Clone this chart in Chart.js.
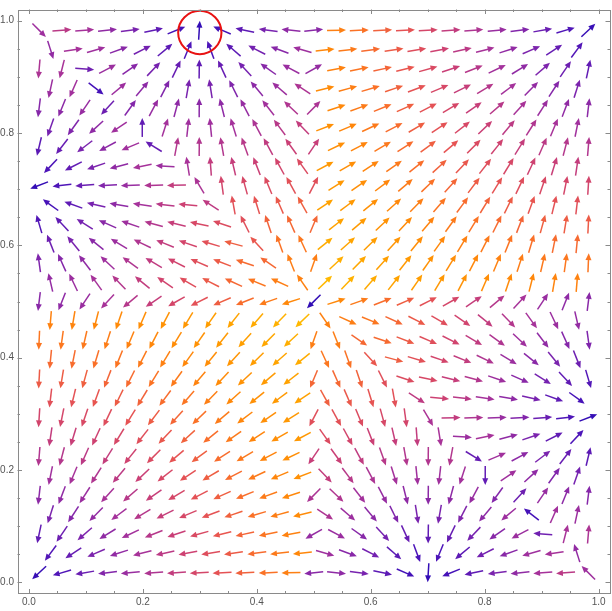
<!DOCTYPE html>
<html>
<head>
<meta charset="utf-8">
<script src="https://cdn.jsdelivr.net/npm/chart.js@4.4.1/dist/chart.umd.min.js"></script>
<style>
html,body{margin:0;padding:0;background:#fff;}
#wrap{width:612px;height:611px;position:relative;}
</style>
</head>
<body>
<div id="wrap"><canvas id="c" width="612" height="611"></canvas></div>
<script>
// ---- sampling lattice (staggered rows) ----
const Y_ROWS = [0.983,0.948,0.914,0.879,0.845,0.810,0.776,0.741,0.707,0.672,0.638,0.603,0.569,0.534,0.500,0.466,0.431,0.397,0.362,0.328,0.293,0.259,0.224,0.190,0.155,0.121,0.086,0.052,0.017];
const X_EVEN = [0.018,0.058,0.098,0.138,0.178,0.219,0.259,0.299,0.339,0.379,0.420,0.460,0.500,0.540,0.580,0.621,0.661,0.701,0.741,0.781,0.822,0.862,0.902,0.942,0.982];
const X_ODD  = [0.038,0.078,0.118,0.158,0.199,0.239,0.279,0.319,0.359,0.400,0.440,0.480,0.520,0.560,0.600,0.641,0.681,0.721,0.761,0.801,0.842,0.882,0.922,0.962];

// ---- field components (row by row, top to bottom) ----
const U_ROWS = [
[0.132,0.242,0.202,0.162,0.122,0.081,0.041,0.001,-0.039,-0.079,-0.12,-0.16,0.15,0.46,0.42,0.379,0.339,0.299,0.259,0.219,0.178,0.138,0.098,0.058,0.018],
[0.05,0.2,0.182,0.142,0.101,0.061,0.021,-0.019,-0.059,-0.1,-0.14,-0.18,0.48,0.44,0.4,0.359,0.319,0.279,0.239,0.199,0.158,0.118,0.078,0.038],
[-0.018,-0.05,0.108,0.162,0.122,0.081,0.041,0.001,-0.039,-0.079,-0.12,-0.16,0.15,0.46,0.42,0.379,0.339,0.299,0.259,0.219,0.178,0.138,0.098,0.058,0.018],
[-0.038,-0.078,0.035,0.142,0.101,0.061,0.021,-0.019,-0.059,-0.1,-0.14,-0.18,0.48,0.44,0.4,0.359,0.319,0.279,0.239,0.199,0.158,0.118,0.078,0.038],
[-0.018,-0.058,-0.098,-0.07,0.082,0.081,0.041,0.001,-0.039,-0.079,-0.12,-0.16,0.15,0.46,0.42,0.379,0.339,0.299,0.259,0.219,0.178,0.138,0.098,0.058,0.018],
[-0.038,-0.078,-0.118,-0.158,0,0.061,0.021,-0.019,-0.059,-0.1,-0.14,-0.18,0.48,0.44,0.4,0.359,0.319,0.279,0.239,0.199,0.158,0.118,0.078,0.038],
[-0.018,-0.058,-0.098,-0.138,-0.178,-0.08,0.041,0.001,-0.039,-0.079,-0.12,-0.16,0.15,0.46,0.42,0.379,0.339,0.299,0.259,0.219,0.178,0.138,0.098,0.058,0.018],
[-0.038,-0.078,-0.118,-0.158,-0.199,-0.185,-0.033,-0.019,-0.059,-0.1,-0.14,-0.18,0.48,0.44,0.4,0.359,0.319,0.279,0.239,0.199,0.158,0.118,0.078,0.038],
[-0.018,-0.058,-0.098,-0.138,-0.178,-0.219,-0.259,-0.107,-0.039,-0.079,-0.12,-0.16,0.15,0.46,0.42,0.379,0.339,0.299,0.259,0.219,0.178,0.138,0.098,0.058,0.018],
[-0.038,-0.078,-0.118,-0.158,-0.199,-0.239,-0.279,-0.211,-0.059,-0.1,-0.14,-0.18,0.48,0.44,0.4,0.359,0.319,0.279,0.239,0.199,0.158,0.118,0.078,0.038],
[-0.018,-0.058,-0.098,-0.138,-0.178,-0.219,-0.259,-0.299,-0.3,-0.146,-0.12,-0.16,0.15,0.46,0.42,0.379,0.339,0.299,0.259,0.219,0.178,0.138,0.098,0.058,0.018],
[-0.038,-0.078,-0.118,-0.158,-0.199,-0.239,-0.279,-0.319,-0.359,-0.236,-0.14,-0.18,0.48,0.44,0.4,0.359,0.319,0.279,0.239,0.199,0.158,0.118,0.078,0.038],
[-0.018,-0.058,-0.098,-0.138,-0.178,-0.219,-0.259,-0.299,-0.339,-0.379,-0.325,-0.165,0.15,0.46,0.42,0.379,0.339,0.299,0.259,0.219,0.178,0.138,0.098,0.058,0.018],
[-0.038,-0.078,-0.118,-0.158,-0.199,-0.239,-0.279,-0.319,-0.359,-0.4,-0.415,-0.261,0.48,0.44,0.4,0.359,0.319,0.279,0.239,0.199,0.158,0.118,0.078,0.038],
[-0.018,-0.058,-0.098,-0.138,-0.178,-0.219,-0.259,-0.299,-0.339,-0.379,-0.42,-0.46,-0.01,0.46,0.42,0.379,0.339,0.299,0.259,0.219,0.178,0.138,0.098,0.058,0.018],
[-0.038,-0.078,-0.118,-0.158,-0.199,-0.239,-0.279,-0.319,-0.359,-0.4,-0.44,-0.48,0.261,0.415,0.4,0.359,0.319,0.279,0.239,0.199,0.158,0.118,0.078,0.038],
[-0.018,-0.058,-0.098,-0.138,-0.178,-0.219,-0.259,-0.299,-0.339,-0.379,-0.42,-0.46,-0.15,0.165,0.325,0.379,0.339,0.299,0.259,0.219,0.178,0.138,0.098,0.058,0.018],
[-0.038,-0.078,-0.118,-0.158,-0.199,-0.239,-0.279,-0.319,-0.359,-0.4,-0.44,-0.48,0.18,0.14,0.236,0.359,0.319,0.279,0.239,0.199,0.158,0.118,0.078,0.038],
[-0.018,-0.058,-0.098,-0.138,-0.178,-0.219,-0.259,-0.299,-0.339,-0.379,-0.42,-0.46,-0.15,0.16,0.12,0.146,0.3,0.299,0.259,0.219,0.178,0.138,0.098,0.058,0.018],
[-0.038,-0.078,-0.118,-0.158,-0.199,-0.239,-0.279,-0.319,-0.359,-0.4,-0.44,-0.48,0.18,0.14,0.1,0.059,0.211,0.279,0.239,0.199,0.158,0.118,0.078,0.038],
[-0.018,-0.058,-0.098,-0.138,-0.178,-0.219,-0.259,-0.299,-0.339,-0.379,-0.42,-0.46,-0.15,0.16,0.12,0.079,0.039,0.107,0.259,0.219,0.178,0.138,0.098,0.058,0.018],
[-0.038,-0.078,-0.118,-0.158,-0.199,-0.239,-0.279,-0.319,-0.359,-0.4,-0.44,-0.48,0.18,0.14,0.1,0.059,0.019,0.033,0.185,0.199,0.158,0.118,0.078,0.038],
[-0.018,-0.058,-0.098,-0.138,-0.178,-0.219,-0.259,-0.299,-0.339,-0.379,-0.42,-0.46,-0.15,0.16,0.12,0.079,0.039,-0.001,-0.041,0.08,0.178,0.138,0.098,0.058,0.018],
[-0.038,-0.078,-0.118,-0.158,-0.199,-0.239,-0.279,-0.319,-0.359,-0.4,-0.44,-0.48,0.18,0.14,0.1,0.059,0.019,-0.021,-0.061,0,0.158,0.118,0.078,0.038],
[-0.018,-0.058,-0.098,-0.138,-0.178,-0.219,-0.259,-0.299,-0.339,-0.379,-0.42,-0.46,-0.15,0.16,0.12,0.079,0.039,-0.001,-0.041,-0.081,-0.082,0.07,0.098,0.058,0.018],
[-0.038,-0.078,-0.118,-0.158,-0.199,-0.239,-0.279,-0.319,-0.359,-0.4,-0.44,-0.48,0.18,0.14,0.1,0.059,0.019,-0.021,-0.061,-0.101,-0.142,-0.035,0.078,0.038],
[-0.018,-0.058,-0.098,-0.138,-0.178,-0.219,-0.259,-0.299,-0.339,-0.379,-0.42,-0.46,-0.15,0.16,0.12,0.079,0.039,-0.001,-0.041,-0.081,-0.122,-0.162,-0.108,0.05,0.018],
[-0.038,-0.078,-0.118,-0.158,-0.199,-0.239,-0.279,-0.319,-0.359,-0.4,-0.44,-0.48,0.18,0.14,0.1,0.059,0.019,-0.021,-0.061,-0.101,-0.142,-0.182,-0.2,-0.05],
[-0.018,-0.058,-0.098,-0.138,-0.178,-0.219,-0.259,-0.299,-0.339,-0.379,-0.42,-0.46,-0.15,0.16,0.12,0.079,0.039,-0.001,-0.041,-0.081,-0.122,-0.162,-0.202,-0.242,-0.132]
];
const V_ROWS = [
[-0.133,0.017,0.017,0.017,0.017,0.017,0.017,0.017,0.017,0.017,0.017,0.017,0.017,0.017,0.017,0.017,0.017,0.017,0.017,0.017,0.017,0.017,0.017,0.017,0.017],
[-0.16,0.03,0.052,0.052,0.052,0.052,0.052,0.052,0.052,0.052,0.052,0.052,0.052,0.052,0.052,0.052,0.052,0.052,0.052,0.052,0.052,0.052,0.052,0.052],
[-0.214,-0.2,-0.008,0.086,0.086,0.086,0.086,0.086,0.086,0.086,0.086,0.086,0.086,0.086,0.086,0.086,0.086,0.086,0.086,0.086,0.086,0.086,0.086,0.086,0.086],
[-0.179,-0.179,-0.028,0.121,0.121,0.121,0.121,0.121,0.121,0.121,0.121,0.121,0.121,0.121,0.121,0.121,0.121,0.121,0.121,0.121,0.121,0.121,0.121,0.121],
[-0.145,-0.145,-0.145,-0.077,0.115,0.155,0.155,0.155,0.155,0.155,0.155,0.155,0.155,0.155,0.155,0.155,0.155,0.155,0.155,0.155,0.155,0.155,0.155,0.155,0.155],
[-0.11,-0.11,-0.11,-0.11,0.088,0.19,0.19,0.19,0.19,0.19,0.19,0.19,0.19,0.19,0.19,0.19,0.19,0.19,0.19,0.19,0.19,0.19,0.19,0.19],
[-0.076,-0.076,-0.076,-0.076,-0.076,0.05,0.224,0.224,0.224,0.224,0.224,0.224,0.224,0.224,0.224,0.224,0.224,0.224,0.224,0.224,0.224,0.224,0.224,0.224,0.224],
[-0.041,-0.041,-0.041,-0.041,-0.041,0.013,0.205,0.259,0.259,0.259,0.259,0.259,0.259,0.259,0.259,0.259,0.259,0.259,0.259,0.259,0.259,0.259,0.259,0.259],
[-0.007,-0.007,-0.007,-0.007,-0.007,-0.007,-0.007,0.185,0.293,0.293,0.293,0.293,0.293,0.293,0.293,0.293,0.293,0.293,0.293,0.293,0.293,0.293,0.293,0.293,0.293],
[0.028,0.028,0.028,0.028,0.028,0.028,0.028,0.136,0.328,0.328,0.328,0.328,0.328,0.328,0.328,0.328,0.328,0.328,0.328,0.328,0.328,0.328,0.328,0.328],
[0.062,0.062,0.062,0.062,0.062,0.062,0.062,0.062,0.101,0.295,0.362,0.362,0.362,0.362,0.362,0.362,0.362,0.362,0.362,0.362,0.362,0.362,0.362,0.362,0.362],
[0.097,0.097,0.097,0.097,0.097,0.097,0.097,0.097,0.097,0.261,0.397,0.397,0.397,0.397,0.397,0.397,0.397,0.397,0.397,0.397,0.397,0.397,0.397,0.397],
[0.131,0.131,0.131,0.131,0.131,0.131,0.131,0.131,0.131,0.131,0.226,0.425,0.431,0.431,0.431,0.431,0.431,0.431,0.431,0.431,0.431,0.431,0.431,0.431,0.431],
[0.166,0.166,0.166,0.166,0.166,0.166,0.166,0.166,0.166,0.166,0.191,0.385,0.466,0.466,0.466,0.466,0.466,0.466,0.466,0.466,0.466,0.466,0.466,0.466],
[-0.15,-0.15,-0.15,-0.15,-0.15,-0.15,-0.15,-0.15,-0.15,-0.15,-0.15,-0.15,-0.01,0.15,0.15,0.15,0.15,0.15,0.15,0.15,0.15,0.15,0.15,0.15,0.15],
[-0.466,-0.466,-0.466,-0.466,-0.466,-0.466,-0.466,-0.466,-0.466,-0.466,-0.466,-0.466,-0.385,-0.191,-0.166,-0.166,-0.166,-0.166,-0.166,-0.166,-0.166,-0.166,-0.166,-0.166],
[-0.431,-0.431,-0.431,-0.431,-0.431,-0.431,-0.431,-0.431,-0.431,-0.431,-0.431,-0.431,-0.431,-0.425,-0.226,-0.131,-0.131,-0.131,-0.131,-0.131,-0.131,-0.131,-0.131,-0.131,-0.131],
[-0.397,-0.397,-0.397,-0.397,-0.397,-0.397,-0.397,-0.397,-0.397,-0.397,-0.397,-0.397,-0.397,-0.397,-0.261,-0.097,-0.097,-0.097,-0.097,-0.097,-0.097,-0.097,-0.097,-0.097],
[-0.362,-0.362,-0.362,-0.362,-0.362,-0.362,-0.362,-0.362,-0.362,-0.362,-0.362,-0.362,-0.362,-0.362,-0.362,-0.295,-0.101,-0.062,-0.062,-0.062,-0.062,-0.062,-0.062,-0.062,-0.062],
[-0.328,-0.328,-0.328,-0.328,-0.328,-0.328,-0.328,-0.328,-0.328,-0.328,-0.328,-0.328,-0.328,-0.328,-0.328,-0.328,-0.136,-0.028,-0.028,-0.028,-0.028,-0.028,-0.028,-0.028],
[-0.293,-0.293,-0.293,-0.293,-0.293,-0.293,-0.293,-0.293,-0.293,-0.293,-0.293,-0.293,-0.293,-0.293,-0.293,-0.293,-0.293,-0.185,0.007,0.007,0.007,0.007,0.007,0.007,0.007],
[-0.259,-0.259,-0.259,-0.259,-0.259,-0.259,-0.259,-0.259,-0.259,-0.259,-0.259,-0.259,-0.259,-0.259,-0.259,-0.259,-0.259,-0.205,-0.013,0.041,0.041,0.041,0.041,0.041],
[-0.224,-0.224,-0.224,-0.224,-0.224,-0.224,-0.224,-0.224,-0.224,-0.224,-0.224,-0.224,-0.224,-0.224,-0.224,-0.224,-0.224,-0.224,-0.224,-0.05,0.076,0.076,0.076,0.076,0.076],
[-0.19,-0.19,-0.19,-0.19,-0.19,-0.19,-0.19,-0.19,-0.19,-0.19,-0.19,-0.19,-0.19,-0.19,-0.19,-0.19,-0.19,-0.19,-0.19,-0.088,0.11,0.11,0.11,0.11],
[-0.155,-0.155,-0.155,-0.155,-0.155,-0.155,-0.155,-0.155,-0.155,-0.155,-0.155,-0.155,-0.155,-0.155,-0.155,-0.155,-0.155,-0.155,-0.155,-0.155,-0.115,0.077,0.145,0.145,0.145],
[-0.121,-0.121,-0.121,-0.121,-0.121,-0.121,-0.121,-0.121,-0.121,-0.121,-0.121,-0.121,-0.121,-0.121,-0.121,-0.121,-0.121,-0.121,-0.121,-0.121,-0.121,0.028,0.179,0.179],
[-0.086,-0.086,-0.086,-0.086,-0.086,-0.086,-0.086,-0.086,-0.086,-0.086,-0.086,-0.086,-0.086,-0.086,-0.086,-0.086,-0.086,-0.086,-0.086,-0.086,-0.086,-0.086,0.008,0.2,0.214],
[-0.052,-0.052,-0.052,-0.052,-0.052,-0.052,-0.052,-0.052,-0.052,-0.052,-0.052,-0.052,-0.052,-0.052,-0.052,-0.052,-0.052,-0.052,-0.052,-0.052,-0.052,-0.052,-0.03,0.16],
[-0.017,-0.017,-0.017,-0.017,-0.017,-0.017,-0.017,-0.017,-0.017,-0.017,-0.017,-0.017,-0.017,-0.017,-0.017,-0.017,-0.017,-0.017,-0.017,-0.017,-0.017,-0.017,-0.017,-0.017,0.133]
];

// ---- axes / annotation ----
const TICK_VALUES = [0.0, 0.2, 0.4, 0.6, 0.8, 1.0];
const MINOR_TICKS = [0.05,0.1,0.15,0.25,0.3,0.35,0.45,0.5,0.55,0.65,0.7,0.75,0.85,0.9,0.95];
const AXIS_RANGE = [-0.02, 1.02];
const MARK_CIRCLE = {x: 0.3, y: 0.979, r: 0.038};

// ---- styles ----
const COLOR_STOPS = [
  [0.00, [40, 10, 180]],
  [0.08, [75, 20, 185]],
  [0.18, [120, 35, 175]],
  [0.30, [165, 50, 155]],
  [0.42, [205, 65, 115]],
  [0.52, [232, 85, 80]],
  [0.62, [250, 112, 40]],
  [0.72, [255, 135, 10]],
  [0.85, [255, 158, 0]],
  [1.00, [255, 184, 0]]
];
const ARROW_LEN = 19, HEAD_LEN = 6.8, HEAD_HALF = 3.0, SHAFT_W = 1.5;

// table built from arrays
const points = [];
let mMax = 0;
for (let r = 0; r < Y_ROWS.length; r++) {
  const xs = (r % 2 === 0) ? X_EVEN : X_ODD;
  for (let k = 0; k < xs.length; k++) {
    const u = U_ROWS[r][k], v = V_ROWS[r][k];
    const m = Math.hypot(u, v);
    if (m > mMax) mMax = m;
    points.push({x: xs[k], y: Y_ROWS[r], u: u, v: v, m: m});
  }
}

function colorFor(t) {
  t = Math.max(0, Math.min(1, t));
  for (let i = 1; i < COLOR_STOPS.length; i++) {
    const [t1, c1] = COLOR_STOPS[i];
    const [t0, c0] = COLOR_STOPS[i - 1];
    if (t <= t1) {
      const f = (t - t0) / (t1 - t0);
      const c = c0.map((a, j) => Math.round(a + (c1[j] - a) * f));
      return `rgb(${c[0]},${c[1]},${c[2]})`;
    }
  }
  const c = COLOR_STOPS[COLOR_STOPS.length - 1][1];
  return `rgb(${c[0]},${c[1]},${c[2]})`;
}

const arrowPlugin = {
  id: 'arrows',
  afterDatasetsDraw(chart) {
    const ctx = chart.ctx;
    const meta = chart.getDatasetMeta(0);
    const xs = chart.scales.x, ys = chart.scales.y;
    const kx = Math.abs(xs.getPixelForValue(1) - xs.getPixelForValue(0));
    const ky = Math.abs(ys.getPixelForValue(1) - ys.getPixelForValue(0));
    ctx.save();
    ctx.lineCap = 'butt';
    meta.data.forEach((el, i) => {
      const p = points[i];
      let dx = p.u * kx, dy = -p.v * ky;
      const n = Math.hypot(dx, dy) || 1;
      dx /= n; dy /= n;
      const cx = el.x, cy = el.y;
      const tx = cx + dx * ARROW_LEN / 2, ty = cy + dy * ARROW_LEN / 2;
      const sx = cx - dx * ARROW_LEN / 2, sy = cy - dy * ARROW_LEN / 2;
      const col = colorFor(p.m / mMax);
      ctx.strokeStyle = col; ctx.fillStyle = col;
      ctx.lineWidth = SHAFT_W;
      ctx.beginPath();
      ctx.moveTo(sx, sy);
      ctx.lineTo(tx - dx * HEAD_LEN * 0.8, ty - dy * HEAD_LEN * 0.8);
      ctx.stroke();
      const bx = tx - dx * HEAD_LEN, by = ty - dy * HEAD_LEN;
      ctx.beginPath();
      ctx.moveTo(tx, ty);
      ctx.lineTo(bx - dy * HEAD_HALF, by + dx * HEAD_HALF);
      ctx.lineTo(bx + dy * HEAD_HALF, by - dx * HEAD_HALF);
      ctx.closePath();
      ctx.fill();
    });
    // annotation circle
    const ccx = xs.getPixelForValue(MARK_CIRCLE.x), ccy = ys.getPixelForValue(MARK_CIRCLE.y);
    const rad = MARK_CIRCLE.r * kx;
    ctx.strokeStyle = 'rgb(232,18,18)';
    ctx.lineWidth = 2;
    ctx.beginPath();
    ctx.arc(ccx, ccy, rad, 0, Math.PI * 2);
    ctx.stroke();
    ctx.restore();
  }
};

const framePlugin = {
  id: 'frame',
  afterDraw(chart) {
    const ctx = chart.ctx, a = chart.chartArea;
    const xs = chart.scales.x, ys = chart.scales.y;
    ctx.save();
    ctx.strokeStyle = '#8a8a8a';
    ctx.lineWidth = 1;
    ctx.strokeRect(Math.round(a.left) + 0.5, Math.round(a.top) + 0.5, Math.round(a.right - a.left) - 1, Math.round(a.bottom - a.top) - 1);
    const tick = (vals, len) => {
      vals.forEach(v => {
        const px = Math.round(xs.getPixelForValue(v)) + 0.5;
        const py = Math.round(ys.getPixelForValue(v)) + 0.5;
        ctx.beginPath();
        ctx.moveTo(px, a.bottom); ctx.lineTo(px, a.bottom - len);
        ctx.moveTo(px, a.top); ctx.lineTo(px, a.top + len);
        ctx.moveTo(a.left, py); ctx.lineTo(a.left + len, py);
        ctx.moveTo(a.right, py); ctx.lineTo(a.right - len, py);
        ctx.stroke();
      });
    };
    tick(TICK_VALUES, 4.5);
    tick(MINOR_TICKS, 2.5);
    ctx.restore();
  }
};

const tickFont = {family: 'Liberation Sans, Arial, sans-serif', size: 10};
new Chart(document.getElementById('c'), {
  type: 'scatter',
  data: {datasets: [{data: points, pointRadius: 0, pointHoverRadius: 0, showLine: false}]},
  options: {
    responsive: false,
    animation: false,
    events: [],
    layout: {padding: {left: 0, right: 2, top: 0.5, bottom: 0}},
    plugins: {legend: {display: false}, tooltip: {enabled: false}},
    scales: {
      x: {
        type: 'linear', min: AXIS_RANGE[0], max: AXIS_RANGE[1],
        grid: {display: false, drawTicks: false}, border: {display: false},
        ticks: {font: tickFont, color: '#555', padding: 3, maxRotation: 0, autoSkip: false, includeBounds: false,
                callback: v => v.toFixed(1)},
        afterBuildTicks: s => { s.ticks = TICK_VALUES.map(v => ({value: v})); },
        afterFit: s => { s.height = 17.5; }
      },
      y: {
        type: 'linear', min: AXIS_RANGE[0], max: AXIS_RANGE[1],
        grid: {display: false, drawTicks: false}, border: {display: false},
        ticks: {font: tickFont, color: '#555', padding: 3.5, autoSkip: false, includeBounds: false,
                callback: v => v.toFixed(1)},
        afterBuildTicks: s => { s.ticks = TICK_VALUES.map(v => ({value: v})); },
        afterFit: s => { s.width = 17.5; }
      }
    }
  },
  plugins: [arrowPlugin, framePlugin]
});
</script>
</body>
</html>
